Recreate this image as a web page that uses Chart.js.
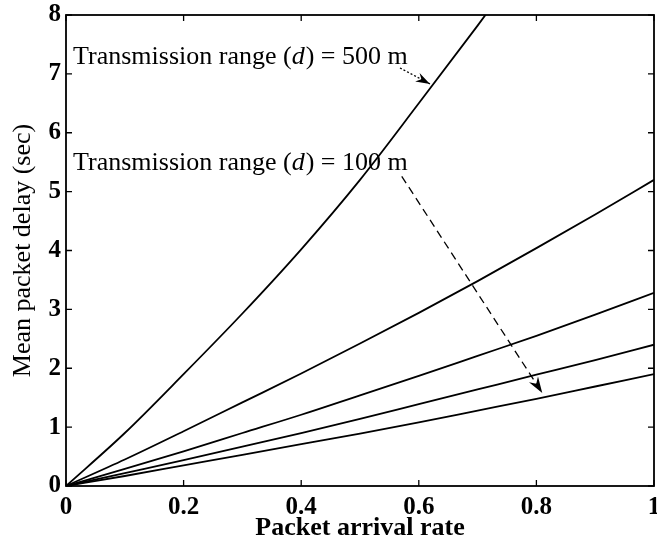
<!DOCTYPE html>
<html><head><meta charset="utf-8">
<script src="https://cdn.jsdelivr.net/npm/chart.js@4"></script>
<style>html,body{margin:0;padding:0;background:#fff}#w{width:657px;height:545px}</style>
</head><body><div id="w"><canvas id="c"></canvas></div>
<script>
const xRates = [0, 0.1, 0.2, 0.3, 0.4, 0.5, 0.6, 0.7, 0.8, 0.9, 1.0];
const xRates500 = [0, 0.1, 0.2, 0.3, 0.4, 0.5, 0.6, 0.7, 0.75];
const delay500 = [0, 0.90, 1.90, 2.93, 4.02, 5.20, 6.50, 7.82, 8.50];
const delayB = [0, 0.45, 0.93, 1.42, 1.91, 2.42, 2.94, 3.48, 4.04, 4.61, 5.20];
const delayC = [0, 0.29, 0.59, 0.90, 1.21, 1.54, 1.87, 2.21, 2.55, 2.91, 3.28];
const delayD = [0, 0.22, 0.44, 0.67, 0.90, 1.14, 1.39, 1.64, 1.89, 2.14, 2.40];
const delay100 = [0, 0.17, 0.35, 0.53, 0.71, 0.89, 1.08, 1.28, 1.48, 1.69, 1.90];
const xTicks = [0, 0.2, 0.4, 0.6, 0.8, 1];
const yTicks = [0, 1, 2, 3, 4, 5, 6, 7, 8];
const label500 = "Transmission range (d) = 500 m";
const label100 = "Transmission range (d) = 100 m";

function pts(xs, ys){ return xs.map((x,i)=>({x:x,y:ys[i]})); }
const lineStyle = {borderColor:'#000', borderWidth:1.8, pointRadius:0, cubicInterpolationMode:'monotone', fill:false};

const serif = '"Liberation Serif", "Times New Roman", serif';
const annoSize = 26;

function drawRichLabel(ctx, text, x, y){
  const parts = text.split('(d)');
  const f = annoSize + 'px ' + serif;
  ctx.font = f;
  ctx.fillStyle = '#000';
  ctx.textBaseline = 'alphabetic';
  ctx.textAlign = 'left';
  let cx = x;
  ctx.fillText(parts[0] + '(', cx, y); cx += ctx.measureText(parts[0] + '(').width;
  ctx.font = 'italic ' + f;
  ctx.fillText('d', cx, y); cx += ctx.measureText('d').width + 1;
  ctx.font = f;
  ctx.fillText(')' + parts[1], cx, y);
}

function arrow(ctx, x1, y1, x2, y2, dash, L){
  ctx.save();
  ctx.strokeStyle = '#000'; ctx.lineWidth = 1.3;
  ctx.setLineDash(dash);
  ctx.beginPath(); ctx.moveTo(x1,y1); ctx.lineTo(x2,y2); ctx.stroke();
  ctx.setLineDash([]);
  const a = Math.atan2(y2-y1, x2-x1), W = 0.32;
  ctx.fillStyle = '#000';
  ctx.beginPath();
  ctx.moveTo(x2,y2);
  ctx.lineTo(x2 - L*Math.cos(a-W), y2 - L*Math.sin(a-W));
  ctx.lineTo(x2 - 0.65*L*Math.cos(a), y2 - 0.65*L*Math.sin(a));
  ctx.lineTo(x2 - L*Math.cos(a+W), y2 - L*Math.sin(a+W));
  ctx.closePath(); ctx.fill();
  ctx.restore();
}

const frame = {
  id:'frame',
  afterDatasetsDraw(chart){
    const ctx = chart.ctx, a = chart.chartArea, xs = chart.scales.x, ys = chart.scales.y;
    ctx.save();
    ctx.strokeStyle = '#000'; ctx.lineWidth = 1.8;
    ctx.strokeRect(a.left, a.top, a.right-a.left, a.bottom-a.top);
    ctx.lineWidth = 1.3;
    const t = 6;
    ctx.beginPath();
    xTicks.forEach(v=>{ const p = xs.getPixelForValue(v);
      ctx.moveTo(p, a.bottom); ctx.lineTo(p, a.bottom - t);
      ctx.moveTo(p, a.top); ctx.lineTo(p, a.top + t); });
    yTicks.forEach(v=>{ const p = ys.getPixelForValue(v);
      ctx.moveTo(a.left, p); ctx.lineTo(a.left + t, p);
      ctx.moveTo(a.right, p); ctx.lineTo(a.right - t, p); });
    ctx.stroke();
    drawRichLabel(ctx, label500, xs.getPixelForValue(0.012), ys.getPixelForValue(7.16));
    drawRichLabel(ctx, label100, xs.getPixelForValue(0.012), ys.getPixelForValue(5.36));
    arrow(ctx, xs.getPixelForValue(0.568), ys.getPixelForValue(7.10), xs.getPixelForValue(0.619), ys.getPixelForValue(6.83), [2,2], 15);
    arrow(ctx, xs.getPixelForValue(0.571), ys.getPixelForValue(5.26), xs.getPixelForValue(0.81), ys.getPixelForValue(1.58), [8,5], 17);
    ctx.restore();
  }
};

new Chart(document.getElementById('c'), {
  type:'line',
  data:{ datasets:[
    Object.assign({label:'d=500 m', data:pts(xRates500, delay500)}, lineStyle),
    Object.assign({label:'d=400 m', data:pts(xRates, delayB)}, lineStyle),
    Object.assign({label:'d=300 m', data:pts(xRates, delayC)}, lineStyle),
    Object.assign({label:'d=200 m', data:pts(xRates, delayD)}, lineStyle),
    Object.assign({label:'d=100 m', data:pts(xRates, delay100)}, lineStyle)
  ]},
  options:{
    responsive:true, maintainAspectRatio:false, animation:false,
    layout:{padding:{left:0, top:15, right:3, bottom:0}},
    plugins:{legend:{display:false}, tooltip:{enabled:false}},
    scales:{
      x:{type:'linear', min:0, max:1,
        afterBuildTicks(s){ s.ticks = xTicks.map(v=>({value:v})); },
        afterFit(s){ s.height = 59; s.paddingLeft = 0; s.paddingRight = 0; },
        grid:{display:false, drawTicks:false}, border:{display:false},
        ticks:{padding:7, color:'#000', maxRotation:0, autoSkip:false,
          font:{family:serif, size:25, weight:'bold'}, callback:v=>String(v)},
        title:{display:true, text:'Packet arrival rate', color:'#000', padding:{top:0,bottom:1},
          font:{family:serif, size:26, weight:'bold'}}
      },
      y:{type:'linear', min:0, max:8,
        afterBuildTicks(s){ s.ticks = yTicks.map(v=>({value:v})); },
        afterFit(s){ s.width = 66; s.paddingTop = 0; s.paddingBottom = 0; },
        grid:{display:false, drawTicks:false}, border:{display:false},
        ticks:{padding:5, color:'#000', autoSkip:false,
          font:{family:serif, size:25, weight:'bold'}},
        title:{display:true, text:'Mean packet delay (sec)', color:'#000', padding:{top:8,bottom:0},
          font:{family:serif, size:26}}
      }
    }
  },
  plugins:[frame]
});
</script></body></html>
